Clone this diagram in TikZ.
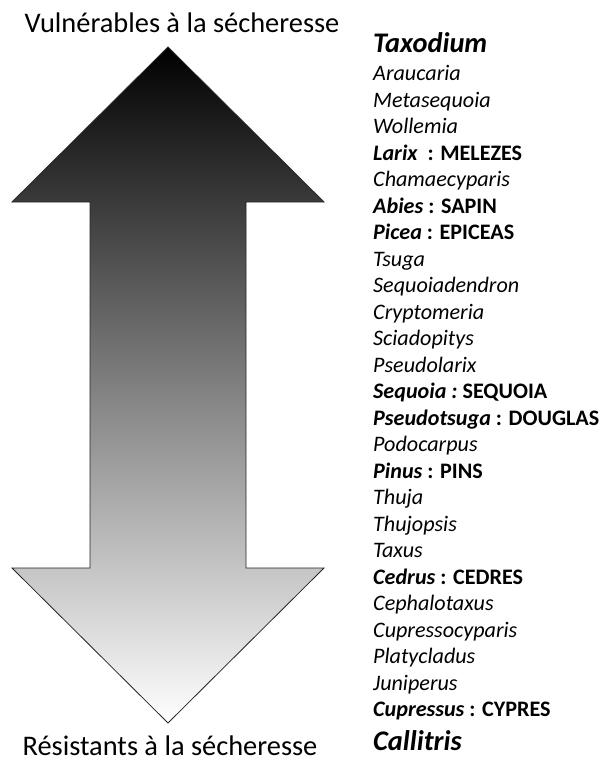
\documentclass[tikz,border=0pt]{standalone}
\usepackage{fontspec}
\setmainfont{Carlito}
\begin{document}
\begin{tikzpicture}[x=1bp,y=-1bp,
  title/.style={inner sep=0pt,anchor=base,font=\fontsize{28.5}{28.5}\selectfont},
  item/.style={inner sep=0pt,anchor=base west,font=\fontsize{22.2}{22.2}\selectfont},
  arrowshape/.style={draw=black!85,line width=0.8bp,line join=miter,top color=black,bottom color=white}]
\useasboundingbox (0,0) rectangle (601,758);
% double arrow
\draw[arrowshape] (168,47) -- (324,202) -- (246,202) -- (246,568) -- (324,568)
  -- (168,723) -- (12,568) -- (90,568) -- (90,202) -- (12,202) -- cycle;
\node[title] (top) at (182,33) {Vulnérables à la sécheresse};
\node[title] (bot) at (170,755.5) {Résistants à la sécheresse};
% list
\node[item,font=\fontsize{28.5}{28.5}\selectfont\bfseries\itshape] (n0) at (373,52.3) {Taxodium};
\node[item] (n1) at (373,80.7) {\itshape Araucaria};
\node[item] (n2) at (373,107.2) {\itshape Metasequoia};
\node[item] (n3) at (373,133.7) {\itshape Wollemia};
\node[item] (n4) at (373,160.2) {\bfseries\itshape Larix\upshape\ \ : MELEZES};
\node[item] (n5) at (373,186.7) {\itshape Chamaecyparis};
\node[item] (n6) at (373,213.2) {\bfseries\itshape Abies\upshape\ : SAPIN};
\node[item] (n7) at (373,239.7) {\bfseries\itshape Picea\upshape\ : EPICEAS};
\node[item] (n8) at (373,266.2) {\itshape Tsuga};
\node[item] (n9) at (373,292.7) {\itshape Sequoiadendron};
\node[item] (n10) at (373,319.2) {\itshape Cryptomeria};
\node[item] (n11) at (373,345.7) {\itshape Sciadopitys};
\node[item] (n12) at (373,372.2) {\itshape Pseudolarix};
\node[item] (n13) at (373,398.7) {\bfseries\itshape Sequoia :\upshape\ SEQUOIA};
\node[item] (n14) at (373,425.2) {\bfseries\itshape Pseudotsuga\upshape\ : DOUGLAS};
\node[item] (n15) at (373,451.7) {\itshape Podocarpus};
\node[item] (n16) at (373,478.2) {\bfseries\itshape Pinus\upshape\ : PINS};
\node[item] (n17) at (373,504.7) {\itshape Thuja};
\node[item] (n18) at (373,531.2) {\itshape Thujopsis};
\node[item] (n19) at (373,557.7) {\itshape Taxus};
\node[item] (n20) at (373,584.2) {\bfseries\itshape Cedrus\upshape\ : CEDRES};
\node[item] (n21) at (373,610.7) {\itshape Cephalotaxus};
\node[item] (n22) at (373,637.2) {\itshape Cupressocyparis};
\node[item] (n23) at (373,663.7) {\itshape Platycladus};
\node[item] (n24) at (373,690.2) {\itshape Juniperus};
\node[item] (n25) at (373,716.7) {\bfseries\itshape Cupressus\upshape\ : CYPRES};
\node[item,font=\fontsize{28.5}{28.5}\selectfont\bfseries\itshape] (n26) at (373,750) {Callitris};
\end{tikzpicture}
\end{document}
